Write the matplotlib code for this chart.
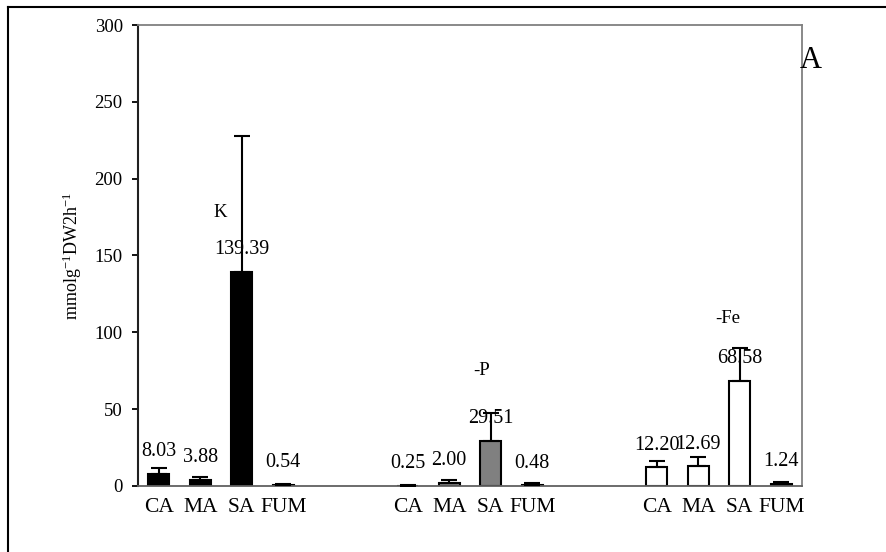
import matplotlib
matplotlib.use("Agg")
import matplotlib.pyplot as plt
import numpy as np

plt.rcParams['font.family'] = ['Liberation Serif', 'DejaVu Serif']
plt.rcParams['mathtext.fontset'] = 'custom'
plt.rcParams['mathtext.rm'] = 'Liberation Serif'
plt.rcParams['mathtext.it'] = 'Liberation Serif:italic'

# Data
acids = ["CA", "MA", "SA", "FUM"]
treatments = ["K", "-P", "-Fe"]
values_K = [8.03, 3.88, 139.39, 0.54]
errors_K = [3.7, 2.0, 88.3, 0.8]
values_P = [0.25, 2.00, 29.51, 0.48]
errors_P = [0.3, 1.9, 18.0, 1.5]
values_Fe = [12.20, 12.69, 68.58, 1.24]
errors_Fe = [4.0, 6.2, 21.2, 1.3]
y_ticks = [0, 50, 100, 150, 200, 250, 300]
ylabel = r"mmolg$^{\mathrm{-1}}$DW2h$^{\mathrm{-1}}$"
panel_letter = "A"

W, H = 886, 552
fig = plt.figure(figsize=(W / 100, H / 100), dpi=100)
ax = fig.add_axes([138 / W, 1 - 486 / H, (802 - 138) / W, (486 - 25) / H])

groups = [
    (values_K, errors_K, 0, "black"),
    (values_P, errors_P, 6, "#808080"),
    (values_Fe, errors_Fe, 12, "white"),
]
tick_pos = []
tick_lab = []
for vals, errs, start, color in groups:
    x = np.arange(len(vals)) + start
    ax.bar(x, vals, width=0.5, color=color, edgecolor="black", linewidth=1.5, zorder=2)
    ax.errorbar(x, vals, yerr=[np.zeros(len(errs)), errs], fmt="none",
                ecolor="black", elinewidth=1.5, capsize=5.5, capthick=1.5, zorder=3)
    for xi, v in zip(x, vals):
        ax.annotate(f"{v:.2f}", (xi, v), xytext=(0, 16), textcoords="offset points",
                    ha="center", va="center", fontsize=14.5, zorder=4)
    tick_pos.extend(x)
    tick_lab.extend(acids)

# treatment labels
label_pos = [(1.48, 178), (7.77, 75), (13.72, 109)]
for t, (lx, ly) in zip(treatments, label_pos):
    ax.text(lx, ly, t, ha="center", va="center", fontsize=13.5)

ax.set_xlim(-0.5, 15.5)
ax.set_ylim(0, 300)
ax.set_yticks(y_ticks)
ax.set_yticklabels([str(t) for t in y_ticks], fontsize=13.5)
ax.set_xticks(tick_pos)
ax.set_xticklabels(tick_lab, fontsize=15.5)
ax.tick_params(axis="x", length=0, pad=9)
ax.tick_params(axis="y", length=4, width=1.3, pad=7, direction="out")

ax.spines["left"].set_color("#202020")
ax.spines["left"].set_linewidth(1.5)
ax.spines["bottom"].set_color("#606060")
ax.spines["bottom"].set_linewidth(1.3)
for s in ["top", "right"]:
    ax.spines[s].set_color("#808080")
    ax.spines[s].set_linewidth(1.3)

fig.text(72 / W, 1 - 256 / H, ylabel, rotation=90, ha="center", va="center", fontsize=13)
fig.text(811 / W, 1 - 61 / H, panel_letter, ha="center", va="center", fontsize=22)

# chart-area border (top and left visible)
fig.add_artist(plt.Line2D([8 / W, 1], [1 - 7 / H, 1 - 7 / H], transform=fig.transFigure,
                          color="black", linewidth=1.5))
fig.add_artist(plt.Line2D([8 / W, 8 / W], [0, 1 - 7 / H], transform=fig.transFigure,
                          color="black", linewidth=1.5))

fig.savefig("out.png", dpi=100)
